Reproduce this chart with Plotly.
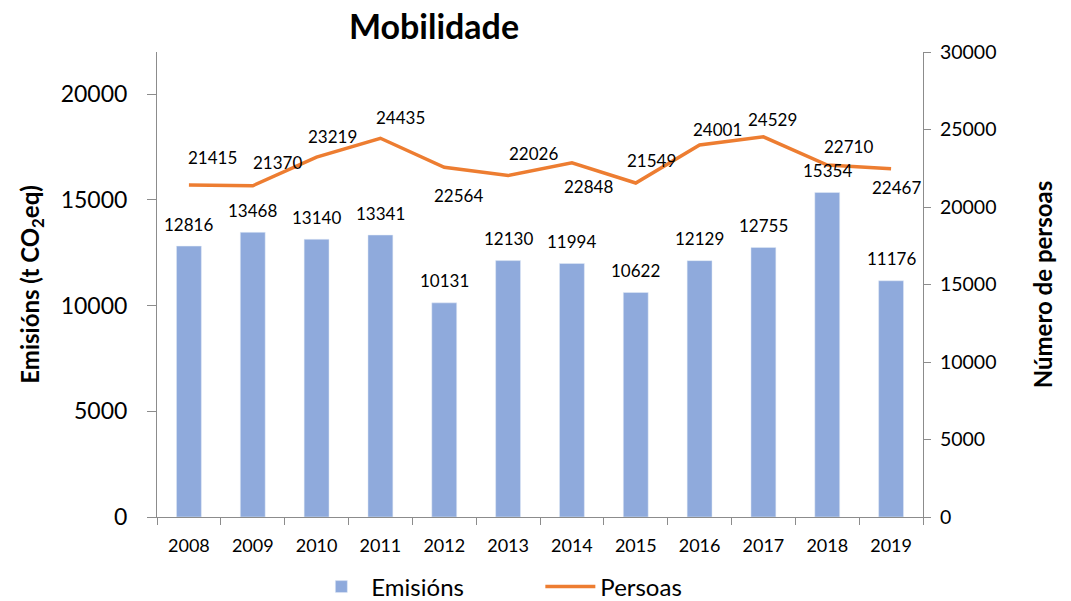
import plotly.graph_objects as go

years = ["2008", "2009", "2010", "2011", "2012", "2013", "2014", "2015", "2016", "2017", "2018", "2019"]
emisions = [12816, 13468, 13140, 13341, 10131, 12130, 11994, 10622, 12129, 12755, 15354, 11176]
persoas = [21415, 21370, 23219, 24435, 22564, 22026, 22848, 21549, 24001, 24529, 22710, 22467]

# label offsets (pixels) for line labels: (xshift, yshift)
line_label_shift = [(24, 28), (25, 23), (16, 21), (20, 21), (14, -28), (25, 22),
                    (17, -24), (16, 22), (18, 15), (9, 17), (21, 19), (5, -19)]

FONT = "Lato"
BAR_C = "#8FAADC"
LINE_C = "#ED7D31"
AX_C = "#8C8C8C"

H = 630
fig = go.Figure()
fig.add_trace(go.Bar(x=years, y=emisions, name="Emisións", marker=dict(color=BAR_C),
                     width=0.39, yaxis="y"))
fig.add_trace(go.Scatter(x=years, y=persoas, name="Persoas", mode="lines",
                         line=dict(color=LINE_C, width=3.5), yaxis="y2"))

annotations = []
for i, v in enumerate(emisions):
    annotations.append(dict(x=i, y=v, xref="x", yref="y", text=str(v), showarrow=False,
                            yshift=22, font=dict(family=FONT, size=17, color="#000")))
for i, (v, (dx, dy)) in enumerate(zip(persoas, line_label_shift)):
    annotations.append(dict(x=i, y=v, xref="x", yref="y2", text=str(v), showarrow=False,
                            xshift=dx, yshift=dy, font=dict(family=FONT, size=17, color="#000")))

fig.update_layout(
    width=1071, height=H,
    margin=dict(l=149, r=156, t=44, b=H - 509),
    paper_bgcolor="white", plot_bgcolor="white",
    font=dict(family=FONT, color="#000"),
    title=dict(text="<b>Mobilidade</b>", xref="paper", x=(434 - 157) / 766, xanchor="center",
               yref="container", y=1 - 19 / H, yanchor="middle",
               font=dict(family=FONT, size=34, color="#000")),
    showlegend=True,
    legend=dict(orientation="h", x=0.2015, xanchor="left", y=-70 / 465, yanchor="middle",
                font=dict(family=FONT, size=24, color="#000"), entrywidth=164,
                entrywidthmode="pixels", itemwidth=50),
    xaxis=dict(type="category", range=[-0.5, 11.5], showline=True, linecolor=AX_C, linewidth=1,
               ticks="outside", tickson="boundaries", ticklen=7, tickcolor=AX_C,
               tickfont=dict(family=FONT, size=18, color="#000"), showgrid=False,
               tickangle=0, ticklabelstandoff=12),
    yaxis=dict(range=[0, 22000], tickvals=[0, 5000, 10000, 15000, 20000], tickformat="d",
               showline=True,
               linecolor=AX_C, linewidth=1, ticks="outside", ticklen=9, tickcolor=AX_C,
               tickfont=dict(family=FONT, size=23, color="#000"), showgrid=False,
               zeroline=False, ticklabelstandoff=15,
               title=dict(text="<b>Emisións (t CO<sub>2</sub>eq)</b>",
                          font=dict(family=FONT, size=24, color="#000"), standoff=14)),
    yaxis2=dict(range=[0, 30000], tickvals=[0, 5000, 10000, 15000, 20000, 25000, 30000],
                tickformat="d",
                overlaying="y", side="right", showline=True, linecolor=AX_C, linewidth=1,
                ticks="outside", ticklen=7, tickcolor=AX_C,
                tickfont=dict(family=FONT, size=19.5, color="#000"), showgrid=False,
                zeroline=False, ticklabelstandoff=5,
                title=dict(text="<b>Número de persoas</b>",
                           font=dict(family=FONT, size=24, color="#000"), standoff=39)),
    annotations=annotations,
)

fig.write_html("out.html")
